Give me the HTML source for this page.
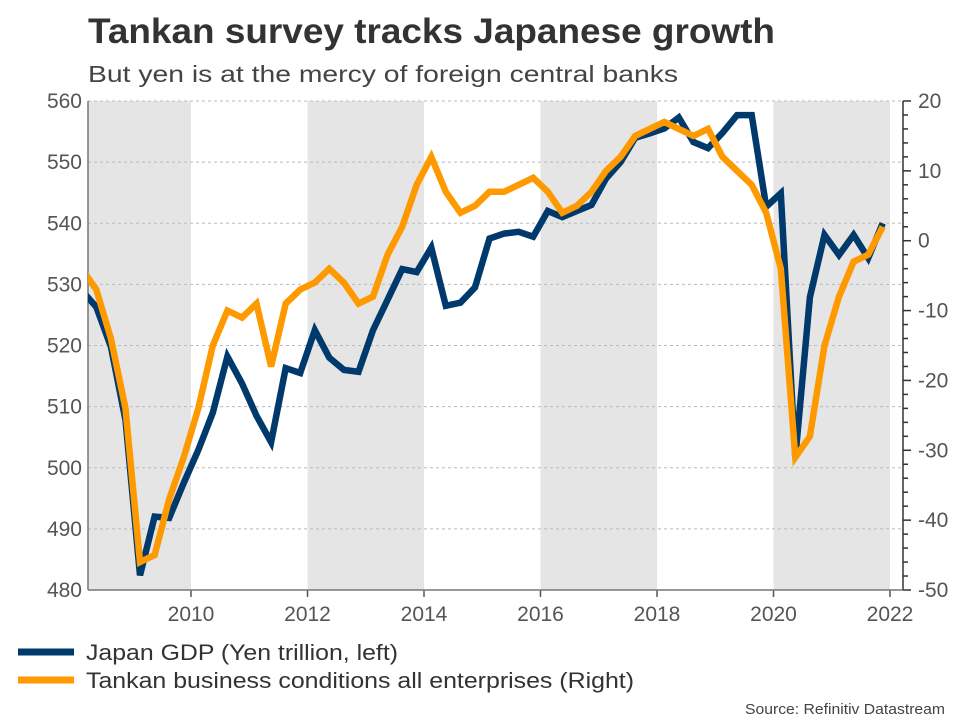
<!DOCTYPE html>
<html><head><meta charset="utf-8"><style>
body{margin:0;background:#fff;font-family:"Liberation Sans",Arial,sans-serif}
svg text{font-family:"Liberation Sans",Arial,sans-serif}
</style></head><body>
<svg id="c" width="960" height="720" viewBox="0 0 960 720">
<text x="88" y="43" font-size="35" font-weight="bold" fill="#333" textLength="687" lengthAdjust="spacingAndGlyphs">Tankan survey tracks Japanese growth</text>
<text x="88" y="82" font-size="23" fill="#444" textLength="590" lengthAdjust="spacingAndGlyphs">But yen is at the mercy of foreign central banks</text>
<g id="bands"></g><g id="grid"></g><g id="axes"></g>
<defs><clipPath id="clip"><rect x="88" y="90" width="815" height="510"/></clipPath></defs>
<g id="lines" clip-path="url(#clip)"></g>
<line x1="18" y1="652" x2="74" y2="652" stroke="#00396b" stroke-width="7"/>
<text x="86" y="660" font-size="22" fill="#333" textLength="312" lengthAdjust="spacingAndGlyphs">Japan GDP (Yen trillion, left)</text>
<line x1="18" y1="680" x2="74" y2="680" stroke="#ff9900" stroke-width="7"/>
<text x="86" y="688" font-size="22" fill="#333" textLength="548" lengthAdjust="spacingAndGlyphs">Tankan business conditions all enterprises (Right)</text>
<text x="745" y="714" font-size="15" fill="#444" textLength="200" lengthAdjust="spacingAndGlyphs">Source: Refinitiv Datastream</text>
</svg>
<script>
const startYear = 2008.125;
const gdp = [529,526.3,519.8,507.8,482.4,492,491.8,497.5,502.9,509,518.2,513.8,508.5,504.2,516.3,515.5,522.5,518,516,515.7,522.5,527.5,532.5,532,536,526.5,527,529.5,537.5,538.3,538.6,537.8,542,541,542,543,547.3,550,554,554.7,555.5,557.3,553.3,552.3,554.8,557.7,557.7,542.7,544.9,501.6,527.9,538.1,534.8,538.1,534.3,540];
const tankan = [-4,-7,-14,-24,-46,-45,-37,-31,-24,-15,-10,-11,-9,-18,-9,-7,-6,-4,-6,-9,-8,-2,2,8,12,7,4,5,7,7,8,9,7,4,5,7,10,12,15,16,17,16,15,16,12,10,8,4,-4,-31,-28,-15,-8,-3,-2,2];
const leftTicks = [480,490,500,510,520,530,540,550,560];
const rightTicks = [-50,-40,-30,-20,-10,0,10,20];
const yearTicks = [2010,2012,2014,2016,2018,2020,2022];
const bandYears = [[2008,2010],[2012,2014],[2016,2018],[2020,2022]];
const NS='http://www.w3.org/2000/svg';
const X0=88,X1=903,Y0=101,Y1=590;
const xs=t=>191+(t-2010)*58.25;
const yl=v=>Y1-(v-480)/80*(Y1-Y0);
const yr=v=>Y1-(v+50)/70*(Y1-Y0);
function mk(tag,attrs,parent){const e=document.createElementNS(NS,tag);for(const k in attrs)e.setAttribute(k,attrs[k]);document.getElementById(parent).appendChild(e);return e;}
bandYears.forEach(b=>{
  const a=Math.max(X0,xs(b[0])),c=Math.min(X1,xs(b[1]));
  const r=mk('rect',{x:a,y:Y0,width:c-a,height:Y1-Y0,fill:'#e5e5e5'},'bands');
  
  
});
leftTicks.forEach(v=>{
  const g=mk('line',{x1:X0,x2:X1,y1:yl(v),y2:yl(v),stroke:'#bbb','stroke-dasharray':'3,3','stroke-width':1},'grid');
  
  
  const t=mk('text',{x:X0-6,y:yl(v)+7,'font-size':21,fill:'#555','text-anchor':'end'},'axes');
  t.textContent=v;
  
  
});
for(let v=-50;v<=20;v+=2){
  const major=v%10===0;
  mk('line',{x1:X1,x2:X1+(major?8:5),y1:yr(v),y2:yr(v),stroke:'#333','stroke-width':1.5},'axes');
}
rightTicks.forEach(v=>{
  const t=mk('text',{x:X1+15,y:yr(v)+7,'font-size':21,fill:'#555'},'axes');
  t.textContent=v;
  
  
});
yearTicks.forEach(y=>{
  mk('line',{x1:xs(y),x2:xs(y),y1:Y1,y2:Y1+7,stroke:'#555','stroke-width':1.5},'axes');
  const t=mk('text',{x:xs(y),y:Y1+31,'font-size':21,fill:'#555','text-anchor':'middle'},'axes');
  t.textContent=y;
  
  
});
mk('line',{x1:X0,x2:X0,y1:Y0,y2:Y1,stroke:'#777','stroke-width':1.5},'axes');
mk('line',{x1:X1,x2:X1,y1:Y0,y2:Y1,stroke:'#333','stroke-width':1.5},'axes');
mk('line',{x1:X0,x2:X1,y1:Y1,y2:Y1,stroke:'#777','stroke-width':1.5},'axes');
const pg=gdp.map((v,i)=>xs(startYear+0.25*i).toFixed(1)+','+yl(v).toFixed(1)).join(' ');
const l1=mk('polyline',{points:pg,fill:'none',stroke:'#00396b','stroke-width':6.5,'stroke-linejoin':'miter'},'lines');


const pt=tankan.map((v,i)=>xs(startYear+0.25*i).toFixed(1)+','+yr(v).toFixed(1)).join(' ');
const l2=mk('polyline',{points:pt,fill:'none',stroke:'#ff9900','stroke-width':6.5,'stroke-linejoin':'miter'},'lines');


</script>
</body></html>
